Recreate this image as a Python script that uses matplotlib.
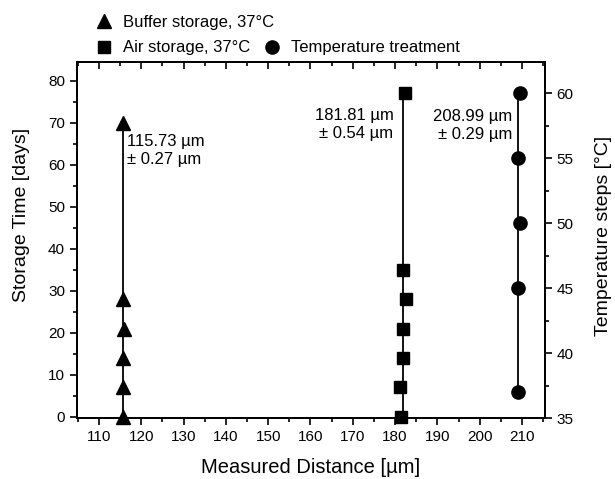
import matplotlib
matplotlib.use("Agg")
import matplotlib.pyplot as plt
from matplotlib.lines import Line2D
from matplotlib.ticker import MultipleLocator, NullFormatter

plt.rcParams["font.family"] = ["Liberation Sans", "DejaVu Sans"]

# buffer storage (left axis, days)
buffer_x = [115.6, 115.8, 115.6, 115.9, 115.7, 115.7]
buffer_days = [0, 7, 14, 21, 28, 70]
buffer_mean = 115.73

# air storage (left axis, days)
air_x = [181.3, 181.2, 181.8, 181.8, 182.6, 181.8, 182.4]
air_days = [0, 7, 14, 21, 28, 35, 77]
air_mean = 181.81

# temperature treatment (right axis, degC)
temp_x = [209.0, 209.0, 209.5, 209.0, 209.5]
temp_steps = [37, 45, 50, 55, 60]
temp_mean = 209.1

labels = ["115.73 µm\n± 0.27 µm", "181.81 µm\n± 0.54 µm", "208.99 µm\n± 0.29 µm"]

fig = plt.figure(figsize=(6.15, 4.79), dpi=100)
ax = fig.add_axes([0.125, 0.127, 0.761, 0.744])
ax2 = ax.twinx()

ax.vlines(buffer_mean, min(buffer_days), max(buffer_days), color="black", linewidth=1.3, zorder=2)
ax.vlines(air_mean, min(air_days), max(air_days), color="black", linewidth=1.3, zorder=2)
ax2.vlines(temp_mean, min(temp_steps), max(temp_steps), color="black", linewidth=1.3, zorder=2)

ax.plot(buffer_x, buffer_days, linestyle="none", marker="^", markersize=10, color="black",
        zorder=3, clip_on=False)
ax.plot(air_x, air_days, linestyle="none", marker="s", markersize=8.5, color="black",
        zorder=3, clip_on=False)
ax2.plot(temp_x, temp_steps, linestyle="none", marker="o", markersize=9.5, color="black",
         zorder=3, clip_on=False)

ax.set_xlim(104.8, 215.4)
ax.set_ylim(-0.3, 84.5)
ax2.set_ylim(35, 62.4)

ax.xaxis.set_major_locator(MultipleLocator(10))
ax.xaxis.set_minor_locator(MultipleLocator(5))
ax.yaxis.set_major_locator(MultipleLocator(10))
ax.yaxis.set_minor_locator(MultipleLocator(5))
ax2.yaxis.set_major_locator(MultipleLocator(5))
ax2.yaxis.set_minor_locator(MultipleLocator(2.5))

for a in (ax, ax2):
    a.tick_params(which="both", direction="out", labelsize=11, width=1.2)
    a.tick_params(which="major", length=5)
    a.tick_params(which="minor", length=3)
    for spine in a.spines.values():
        spine.set_linewidth(1.3)

# top ticks point into the plot, no labels
top = ax.secondary_xaxis("top")
top.xaxis.set_major_locator(MultipleLocator(10))
top.xaxis.set_minor_locator(MultipleLocator(5))
top.xaxis.set_major_formatter(NullFormatter())
top.tick_params(which="both", direction="in", width=1.2)
top.tick_params(which="major", length=5)
top.tick_params(which="minor", length=3)
top.spines["top"].set_linewidth(1.3)

ax.set_xlabel("Measured Distance [µm]", fontsize=14.5)
ax.xaxis.set_label_coords(0.5, -0.112)
ax.set_ylabel("Storage Time [days]", fontsize=14)
ax.yaxis.set_label_coords(-0.1, 0.57)
ax2.set_ylabel("Temperature steps [°C]", fontsize=14)
ax2.yaxis.set_label_coords(1.107, 0.51)

ax.text(buffer_mean + 0.8, 67.2, labels[0], fontsize=12, ha="left", va="top", linespacing=1.25)
ax.text(air_mean - 2.2, 73.5, labels[1], fontsize=12, ha="right", va="top", linespacing=1.25)
ax.text(temp_mean - 1.3, 73.3, labels[2], fontsize=12, ha="right", va="top", linespacing=1.25)

h_buffer = Line2D([], [], linestyle="none", marker="^", markersize=10, color="black")
h_air = Line2D([], [], linestyle="none", marker="s", markersize=8.5, color="black")
h_temp = Line2D([], [], linestyle="none", marker="o", markersize=9.5, color="black")
leg_kw = dict(frameon=False, fontsize=12, handlelength=1.0, handletextpad=0.65,
              borderaxespad=0.0, loc="center left")
fig.legend([h_buffer], ["Buffer storage, 37°C"], bbox_to_anchor=(0.1447, 0.954), **leg_kw)
fig.legend([h_air, h_temp], ["Air storage, 37°C", "Temperature treatment"], ncol=2,
           columnspacing=0.8, bbox_to_anchor=(0.1447, 0.900), **leg_kw)

fig.savefig("out.png", dpi=100)
